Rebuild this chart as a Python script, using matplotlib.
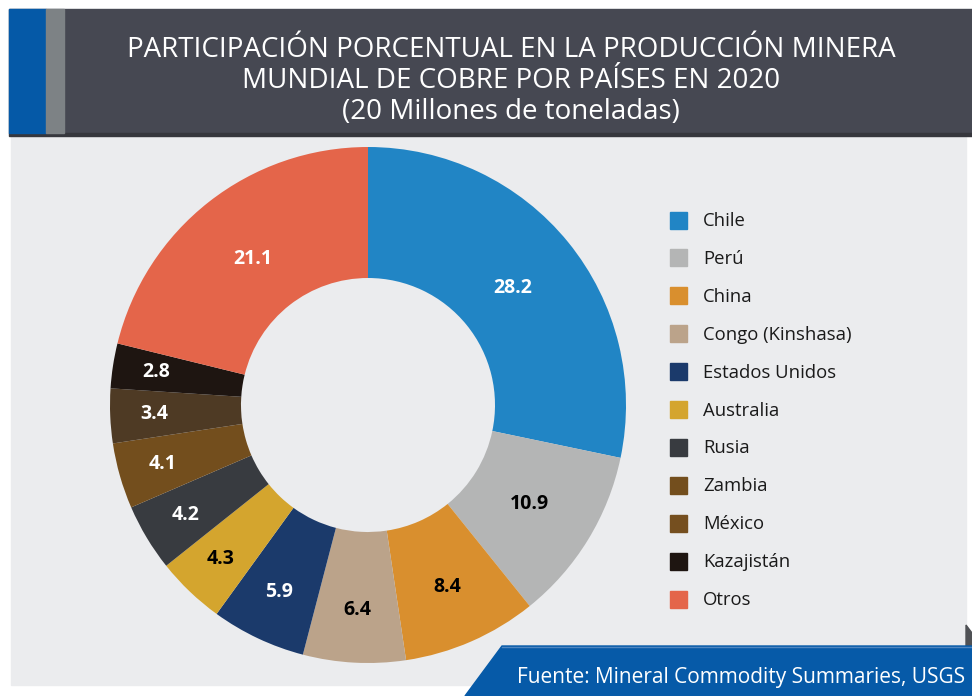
import numpy as np
import matplotlib.pyplot as plt
from matplotlib.patches import Rectangle, Polygon

plt.rcParams['font.family'] = ['Open Sans', 'DejaVu Sans']

# data
paises = ["Chile", "Perú", "China", "Congo (Kinshasa)", "Estados Unidos", "Australia",
          "Rusia", "Zambia", "México", "Kazajistán", "Otros"]
porcentajes = [28.2, 10.9, 8.4, 6.4, 5.9, 4.3, 4.2, 4.1, 3.4, 2.8, 21.1]
colores = ["#2185c5", "#b4b5b5", "#d98f2e", "#bba38a", "#1b3a6b", "#d4a52e",
           "#383b40", "#734e1d", "#4e3a24", "#1e1511", "#e4654a"]
colores_leyenda = colores[:8] + ["#754f1f"] + colores[9:]
color_texto = ["white", "black", "black", "black", "white", "black",
               "white", "white", "white", "white", "white"]

titulo = ("PARTICIPACIÓN PORCENTUAL EN LA PRODUCCIÓN MINERA\n"
          "MUNDIAL DE COBRE POR PAÍSES EN 2020\n(20 Millones de toneladas)")
fuente = "Fuente: Mineral Commodity Summaries, USGS"

W, H = 972, 696
fig = plt.figure(figsize=(W / 100, H / 100), dpi=100)
fig.patch.set_facecolor("white")

# background axes in pixel coordinates
bg = fig.add_axes([0, 0, 1, 1], zorder=0)
bg.set_xlim(0, W)
bg.set_ylim(H, 0)
bg.axis("off")

bg.add_patch(Rectangle((11, 136), 955, 549, color="#ebecee"))
bg.add_patch(Rectangle((9, 9), W - 9, 124, color="#464852"))
bg.add_patch(Rectangle((9, 133), W - 9, 3, color="#36373d"))
bg.add_patch(Rectangle((9, 9), 37, 124, color="#0559a7"))
bg.add_patch(Rectangle((46, 9), 18, 124, color="#7d8285"))
bg.add_patch(Polygon([(966, 625), (972, 633), (972, 646), (966, 646)], color="#4f5155"))
bg.add_patch(Polygon([(465, 696), (502, 646), (W, 646), (W, 696)], color="#065aa8"))
bg.plot([502, W], [646.5, 646.5], color="#4f86c0", lw=1)

bg.text(511, 81, titulo, color="white", fontsize=20, ha="center", va="center",
        linespacing=1.13)
bg.text(965, 678, fuente, color="white", fontsize=15, ha="right", va="center")

# legend
for i, (p, c) in enumerate(zip(paises, colores_leyenda)):
    y = 220 + i * 37.9
    bg.add_patch(Rectangle((670, y - 8.5), 17, 17, color=c))
    bg.text(703, y + 1, p, color="#1a1a1a", fontsize=13.3, ha="left", va="center")

# donut
cx, cy, r = 368, 405, 260
ax = fig.add_axes([(cx - r) / W, (H - cy - r) / H, 2 * r / W, 2 * r / H], zorder=1)
ax.patch.set_visible(False)
wedges = ax.pie(porcentajes, colors=colores, startangle=90, counterclock=False,
                radius=258 / 260, wedgeprops=dict(width=131 / 260, linewidth=0))[0]
for w, v, tc in zip(wedges, porcentajes, color_texto):
    ang = np.deg2rad((w.theta1 + w.theta2) / 2)
    # narrow slices get their label pushed a bit outward, like the original
    d = (186 + 28 * min(1, max(0, 1 - (v - 4) / 8))) / 260
    ax.text(d * np.cos(ang), d * np.sin(ang), f"{v}", color=tc, fontsize=14,
            fontweight="bold", ha="center", va="center")
ax.set_xlim(-1, 1)
ax.set_ylim(-1, 1)

fig.savefig("out.png", dpi=100)
